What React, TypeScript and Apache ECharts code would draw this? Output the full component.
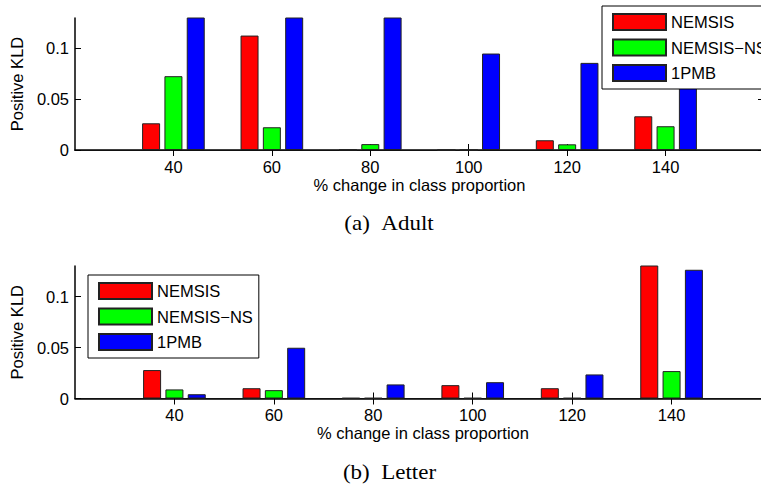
import React, { useEffect, useRef } from 'react';
import * as echarts from 'echarts';

// ---- data ----
const xCategories = ['20', '40', '60', '80', '100', '120', '140', '160'];
const seriesNames = ['NEMSIS', 'NEMSIS\u2212NS', '1PMB'];
const seriesColors = ['#ff0000', '#00ff00', '#0000ff'];

// (a) Adult
const adultNemsis = [null, 0.0263, 0.1127, 0.0003, 0, 0.0096, 0.0332, null];
const adultNemsisNS = [null, 0.0727, 0.0224, 0.0058, 0, 0.0056, 0.0234, null];
const adult1PMB = [null, 0.2, 0.2, 0.2, 0.095, 0.0858, 0.1, null];

// (b) Letter
const letterNemsis = [null, 0.0279, 0.0101, 0.0005, 0.0131, 0.0101, 0.17, null];
const letterNemsisNS = [null, 0.0089, 0.0082, 0.0005, 0.0005, 0.0005, 0.0269, null];
const letter1PMB = [null, 0.0042, 0.0498, 0.0138, 0.016, 0.0236, 0.1263, null];

const yMin = 0;
const yMax = 0.13;
const yInterval = 0.05;

const captions = ['(a)\u00a0\u00a0Adult', '(b)\u00a0\u00a0Letter'];
const xName = '% change in class proportion';
const yName = 'Positive KLD';

const SANS = "'Liberation Sans', Arial, Helvetica, sans-serif";
const SERIF = "'Liberation Serif', 'Times New Roman', serif";
const FS = 16.5;

const showIdx = (i: number) => i > 0 && i < xCategories.length - 1;

function xAxes(gridIndex: number) {
  const tick = {
    show: true,
    inside: true,
    length: 6,
    interval: (i: number) => showIdx(i),
    lineStyle: { color: '#000', width: 1 },
  };
  return [
    {
      type: 'category',
      gridIndex,
      data: xCategories,
      position: 'bottom',
      boundaryGap: false,
      axisLine: { show: true, lineStyle: { color: '#000', width: 1.5 } },
      axisTick: tick,
      axisLabel: {
        interval: 0,
        margin: 8,
        color: '#000',
        fontSize: FS,
        fontFamily: SANS,
        formatter: (v: string, i: number) => (showIdx(i) ? v : ''),
      },
      splitLine: { show: false },
      name: xName,
      nameLocation: 'middle',
      nameGap: 26,
      nameTextStyle: { color: '#000', fontSize: FS, fontFamily: SANS },
    },
    {
      type: 'category',
      gridIndex,
      data: xCategories,
      position: 'top',
      boundaryGap: false,
      axisLine: { show: true, lineStyle: { color: '#111', width: 1.2 } },
      axisTick: tick,
      axisLabel: { show: false },
      splitLine: { show: false },
    },
  ];
}

function yAxes(gridIndex: number) {
  const tick = { show: true, inside: true, length: 6, lineStyle: { color: '#000', width: 1 } };
  return [
    {
      type: 'value',
      gridIndex,
      position: 'left',
      min: yMin,
      max: yMax,
      interval: yInterval,
      axisLine: { show: true, lineStyle: { color: '#000', width: 1.5 } },
      axisTick: tick,
      axisLabel: {
        showMaxLabel: false,
        margin: 6,
        color: '#000',
        fontSize: FS,
        fontFamily: SANS,
      },
      splitLine: { show: false },
      name: yName,
      nameLocation: 'middle',
      nameRotate: 90,
      nameGap: 47,
      nameTextStyle: { color: '#000', fontSize: FS, fontFamily: SANS },
    },
    {
      type: 'value',
      gridIndex,
      position: 'right',
      min: yMin,
      max: yMax,
      interval: yInterval,
      axisLine: { show: true, lineStyle: { color: '#111', width: 1.2 } },
      axisTick: tick,
      axisLabel: { show: false },
      splitLine: { show: false },
    },
  ];
}

function barSeries(values: (number | null)[][], xAxisIndex: number, yAxisIndex: number) {
  return values.map((data, k) => ({
    type: 'bar',
    name: seriesNames[k],
    xAxisIndex,
    yAxisIndex,
    data,
    barWidth: 18,
    barGap: '24%',
    clip: true,
    itemStyle: { color: seriesColors[k], borderColor: '#222', borderWidth: 1 },
  }));
}

function legend(left: number, top: number) {
  return {
    orient: 'vertical',
    left,
    top,
    data: seriesNames,
    icon: 'rect',
    itemWidth: 53,
    itemHeight: 16,
    itemGap: 7.5,
    padding: [7, 6, 7, 10],
    backgroundColor: '#fff',
    borderColor: '#000',
    borderWidth: 1,
    textStyle: { color: '#000', fontSize: FS, fontFamily: SANS, lineHeight: 16 },
    selectedMode: false,
  };
}

export default function App() {
  const ref = useRef<HTMLDivElement>(null);
  useEffect(() => {
    if (!ref.current) return;
    const chart = echarts.init(ref.current, undefined, { renderer: 'svg' });
    chart.setOption({
      animation: false,
      backgroundColor: '#fff',
      grid: [
        { left: 75, top: 18, width: 689, height: 132 },
        { left: 75, top: 266, width: 696, height: 132.5 },
      ],
      xAxis: [...xAxes(0), ...xAxes(1)],
      yAxis: [...yAxes(0), ...yAxes(1)],
      legend: [legend(602, 6), legend(88, 275)],
      series: [
        ...barSeries([adultNemsis, adultNemsisNS, adult1PMB], 0, 0),
        ...barSeries([letterNemsis, letterNemsisNS, letter1PMB], 2, 2),
      ],
      graphic: [
        {
          type: 'text',
          x: 389,
          y: 223.5,
          scaleX: 1.15,
          style: {
            text: captions[0],
            fontSize: 20,
            fontFamily: SERIF,
            fill: '#000',
            align: 'center',
            verticalAlign: 'middle',
          },
        },
        {
          type: 'text',
          x: 389.5,
          y: 473,
          scaleX: 1.15,
          style: {
            text: captions[1],
            fontSize: 20,
            fontFamily: SERIF,
            fill: '#000',
            align: 'center',
            verticalAlign: 'middle',
          },
        },
      ],
    });
    return () => chart.dispose();
  }, []);
  return (
    <div
      style={{
        position: 'fixed',
        left: 0,
        top: 0,
        width: 761,
        height: 489,
        overflow: 'hidden',
        background: '#fff',
      }}
    >
      <div ref={ref} style={{ width: 800, height: 489 }} />
    </div>
  );
}
